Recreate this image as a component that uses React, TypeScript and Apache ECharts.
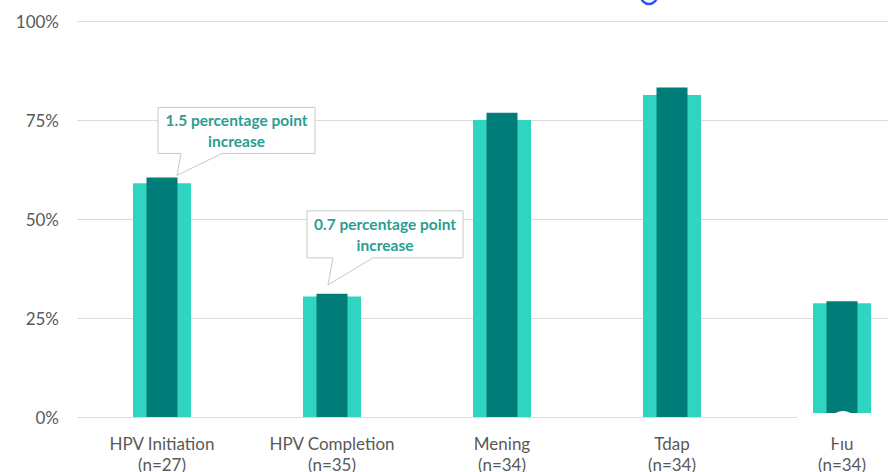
import React, { useEffect, useRef } from "react";
import * as echarts from "echarts";

// Vaccination coverage by vaccine: baseline (wide light bar) and follow-up (narrow dark bar)
const categories = ["HPV Initiation", "HPV Completion", "Mening", "Tdap", "Flu"];
const sampleSizes = [27, 35, 34, 34, 34];
const baselineRates = [59.0, 30.4, 75.0, 81.3, 28.7];
const followUpRates = [60.5, 31.1, 76.8, 83.2, 29.2];
const yTicks = [0, 25, 50, 75, 100];

// Callouts highlighting the change for selected categories
const calloutIndices = [0, 1];

const LIGHT = "#30d5c1";
const DARK = "#007c79";
const CALLOUT_TEXT = "#2a9e92";
const AXIS_TEXT = "#595959";
const GRID = "#dcdcdc";
const FONT = "Lato, 'Open Sans', sans-serif";

export default function App() {
  const ref = useRef<HTMLDivElement | null>(null);

  useEffect(() => {
    if (!ref.current) return;
    const chart = echarts.init(ref.current, undefined, { renderer: "svg" });
    const labels = categories.map((c, i) => `${c}\n(n=${sampleSizes[i]})`);

    chart.setOption({
      animation: false,
      backgroundColor: "#ffffff",
      grid: { left: 77, top: 21, width: 850, height: 396, outerBoundsMode: "none" },
      xAxis: [
        {
          type: "category",
          data: labels,
          axisLine: { show: false },
          axisTick: { show: false },
          axisLabel: {
            color: AXIS_TEXT,
            fontFamily: FONT,
            fontSize: 17,
            lineHeight: 21,
            margin: 16,
            interval: 0,
          },
        },
        {
          type: "category",
          data: labels,
          show: false,
        },
      ],
      yAxis: {
        type: "value",
        min: yTicks[0],
        max: yTicks[yTicks.length - 1],
        interval: yTicks[1] - yTicks[0],
        axisLine: { show: false },
        axisTick: { show: false },
        splitLine: { lineStyle: { color: GRID, width: 1 } },
        axisLabel: {
          formatter: "{value}%",
          color: AXIS_TEXT,
          fontFamily: FONT,
          fontSize: 17,
          margin: 18,
        },
      },
      series: [
        {
          type: "bar",
          xAxisIndex: 0,
          data: baselineRates,
          barWidth: 58,
          itemStyle: { color: LIGHT },
        },
        {
          type: "bar",
          xAxisIndex: 1,
          data: followUpRates,
          barWidth: 31,
          itemStyle: { color: DARK },
        },
      ],
    });

    // Callout geometry, relative to the top of the follow-up bar
    const calloutLayout = [
      { dx: 15, dy: -2, boxLeft: -19, boxTop: -68, w: 157, h: 46, tailL: 4, tailR: 45 },
      { dx: -4, dy: -9, boxLeft: -21, boxTop: -74, w: 156, h: 47, tailL: 5, tailR: 45 },
    ];

    const graphics: any[] = [];
    calloutIndices.forEach((idx, k) => {
      const L = calloutLayout[k];
      const p = chart.convertToPixel({ seriesIndex: 1 }, [idx, followUpRates[idx]]) as number[];
      const tipX = p[0] + L.dx;
      const tipY = p[1] + L.dy;
      const x0 = tipX + L.boxLeft;
      const y0 = tipY + L.boxTop;
      const x1 = x0 + L.w;
      const y1 = y0 + L.h;
      const diff = (followUpRates[idx] - baselineRates[idx]).toFixed(1);
      graphics.push({
        type: "polygon",
        z: 100,
        shape: {
          points: [
            [x0, y0],
            [x1, y0],
            [x1, y1],
            [tipX + L.tailR, y1],
            [tipX, tipY],
            [tipX + L.tailL, y1],
            [x0, y1],
          ],
        },
        style: { fill: "#ffffff", stroke: "#c8c8c8", lineWidth: 1 },
      });
      graphics.push({
        type: "text",
        z: 101,
        x: (x0 + x1) / 2,
        y: (y0 + y1) / 2,
        style: {
          text: `${diff} percentage point\nincrease`,
          fill: CALLOUT_TEXT,
          fontFamily: FONT,
          fontWeight: "bold",
          fontSize: 15.5,
          lineHeight: 21,
          align: "center",
          verticalAlign: "middle",
        },
      });
    });

    // Fragment of a blue glyph at the top edge
    graphics.push({
      type: "arc",
      z: 100,
      shape: { cx: 649, cy: -4, r: 8, startAngle: 0, endAngle: Math.PI },
      style: { stroke: "#2f52f2", lineWidth: 2.5, fill: null },
    });
    // White patch over the lower right corner
    graphics.push({
      type: "rect",
      z: 100,
      shape: { x: 797, y: 413, width: 91, height: 18 },
      style: { fill: "#ffffff" },
    });
    graphics.push({
      type: "circle",
      z: 100,
      shape: { cx: 843, cy: 426, r: 15 },
      style: { fill: "#ffffff" },
    });

    chart.setOption({ graphic: graphics });

    return () => chart.dispose();
  }, []);

  return (
    <div
      ref={ref}
      style={{ position: "fixed", left: 0, top: 0, width: 888, height: 472 }}
    />
  );
}
